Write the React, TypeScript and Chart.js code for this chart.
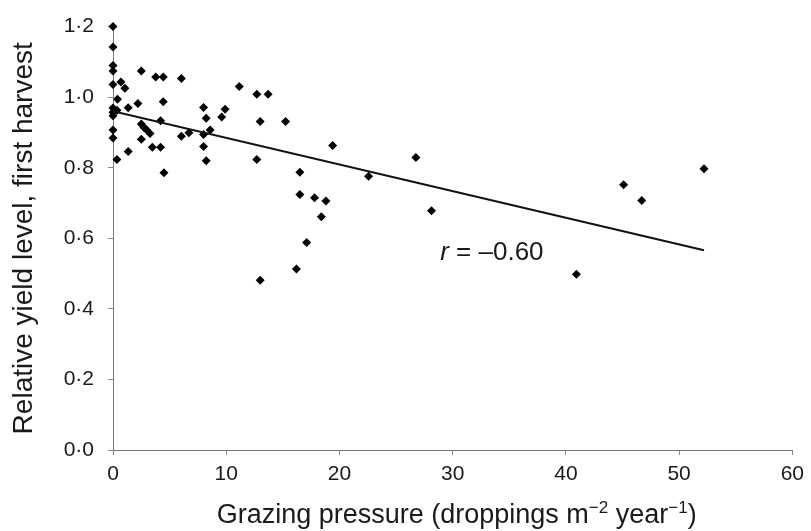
import React, { useEffect, useRef } from "react";
import { Chart, registerables } from "chart.js";

Chart.register(...registerables);

const xValues: number[] = [
  0, 0, 0, 0, 0, 0, 0, 0, 0, 0,
  0.4, 0.35, 0.7, 1.05, 1.34, 2.2, 2.5, 3.77, 4.44, 6.04, 4.44, 11.15,
  2.5, 2.74, 2.98, 3.27, 4.2, 2.5, 1.34, 0.35, 3.47, 4.2, 4.5, 6.04, 6.7,
  8.0, 8.23, 8.0, 8.58, 8.0, 8.23, 9.6, 9.9,
  12.7, 13.7, 13.0, 15.24, 19.4, 12.7, 16.5, 22.57, 16.5, 17.8, 18.8, 18.4,
  17.1, 16.2, 13.0,
  28.13, 45.1, 46.7, 52.2, 40.93, 26.75,
];
const yValues: number[] = [
  1.2, 1.142, 1.09, 1.074, 1.036, 0.969, 0.957, 0.947, 0.907, 0.884,
  0.994, 0.963, 1.043, 1.025, 0.97, 0.982, 1.074, 1.057, 1.057, 1.053, 0.987, 1.03,
  0.924, 0.914, 0.907, 0.897, 0.933, 0.881, 0.846, 0.823, 0.858, 0.858, 0.786, 0.889, 0.899,
  0.971, 0.94, 0.894, 0.907, 0.86, 0.82, 0.944, 0.966,
  1.008, 1.008, 0.931, 0.931, 0.863, 0.823, 0.787, 0.776, 0.724, 0.715, 0.706, 0.661,
  0.588, 0.513, 0.481,
  0.678, 0.752, 0.707, 0.797, 0.498, 0.829,
];
const trendX: number[] = [0, 52.2];
const trendY: number[] = [0.96, 0.566];
const xTicks: number[] = [0, 10, 20, 30, 40, 50, 60];
const yTicks: number[] = [0, 0.2, 0.4, 0.6, 0.8, 1.0, 1.2];
// x-axis title pieces: [text, isSuperscript]
const xTitleParts: [string, boolean][] = [
  ["Grazing pressure (droppings m", false],
  ["\u22122", true],
  [" year", false],
  ["\u22121", true],
  [")", false],
];
const yTitle = "Relative yield level, first harvest";
const annotation = { x: 28.9, y: 0.56, r: "r", rest: " = \u20130.60" };

const FONT = "'Liberation Sans', Arial, sans-serif";
const TEXT = "#1a1a1a";

export default function App() {
  const ref = useRef<HTMLCanvasElement | null>(null);
  useEffect(() => {
    if (!ref.current) return;
    const textPlugin = {
      id: "texts",
      afterDraw(chart: any) {
        const ctx = chart.ctx;
        const xs = chart.scales.x;
        const ys = chart.scales.y;
        ctx.save();
        ctx.fillStyle = TEXT;
        ctx.textAlign = "left";
        // annotation
        const px = xs.getPixelForValue(annotation.x);
        const py = ys.getPixelForValue(annotation.y);
        ctx.textBaseline = "middle";
        ctx.font = `italic 26px ${FONT}`;
        ctx.fillText(annotation.r, px, py);
        const w = ctx.measureText(annotation.r).width;
        ctx.font = `26px ${FONT}`;
        ctx.fillText(annotation.rest, px + w, py);
        // x title with superscripts
        ctx.textBaseline = "alphabetic";
        const big = `27px ${FONT}`;
        const small = `17px ${FONT}`;
        let total = 0;
        const widths = xTitleParts.map(([t, sup]) => {
          ctx.font = sup ? small : big;
          const m = ctx.measureText(t).width;
          total += m;
          return m;
        });
        const area = chart.chartArea;
        let cx = (area.left + area.right) / 2 - total / 2 + 4;
        const baseY = chart.height - 8;
        xTitleParts.forEach(([t, sup], i) => {
          ctx.font = sup ? small : big;
          ctx.fillText(t, cx, sup ? baseY - 10 : baseY);
          cx += widths[i];
        });
        ctx.restore();
      },
    };
    const chart = new Chart(ref.current, {
      type: "scatter",
      data: {
        datasets: [
          {
            type: "line",
            data: trendX.map((x, i) => ({ x, y: trendY[i] })),
            borderColor: "#111",
            borderWidth: 2,
            pointRadius: 0,
            fill: false,
          } as any,
          {
            data: xValues.map((x, i) => ({ x, y: yValues[i] })),
            pointStyle: "rectRot",
            pointRadius: 4.5,
            backgroundColor: "#000",
            borderColor: "#000",
            borderWidth: 0,
            clip: false,
          } as any,
        ],
      },
      options: {
        animation: false,
        responsive: false,
        layout: { padding: { left: 0, right: 18, top: 25, bottom: 0 } },
        plugins: { legend: { display: false }, tooltip: { enabled: false } },
        scales: {
          x: {
            type: "linear",
            min: 0,
            max: 60,
            afterBuildTicks: (s: any) => {
              s.ticks = xTicks.map((v) => ({ value: v }));
            },
            afterFit: (s: any) => {
              s.height = 81;
            },
            border: { color: "#777", width: 1 },
            grid: { drawOnChartArea: false, tickLength: 5, color: "#888" },
            ticks: {
              color: TEXT,
              padding: 7,
              font: { family: FONT, size: 21 },
              callback: (v: any) => String(v),
            },
          },
          y: {
            type: "linear",
            min: 0,
            max: 1.2,
            afterBuildTicks: (s: any) => {
              s.ticks = yTicks.map((v) => ({ value: v }));
            },
            afterFit: (s: any) => {
              s.width = 113;
            },
            border: { color: "#777", width: 1 },
            grid: { drawOnChartArea: false, tickLength: 5, color: "#888" },
            ticks: {
              color: TEXT,
              padding: 14,
              font: { family: FONT, size: 21 },
              callback: (v: any) => Number(v).toFixed(1).replace(".", "\u00B7"),
            },
            title: {
              display: true,
              text: yTitle,
              color: TEXT,
              font: { family: FONT, size: 28 },
              padding: { top: 7, bottom: 0 },
            },
          },
        },
      },
      plugins: [textPlugin],
    });
    return () => chart.destroy();
  }, []);
  return (
    <div style={{ position: "absolute", left: 0, top: 0, width: 811, height: 531, background: "#fff" }}>
      <canvas ref={ref} width={811} height={531} style={{ display: "block" }} />
    </div>
  );
}
